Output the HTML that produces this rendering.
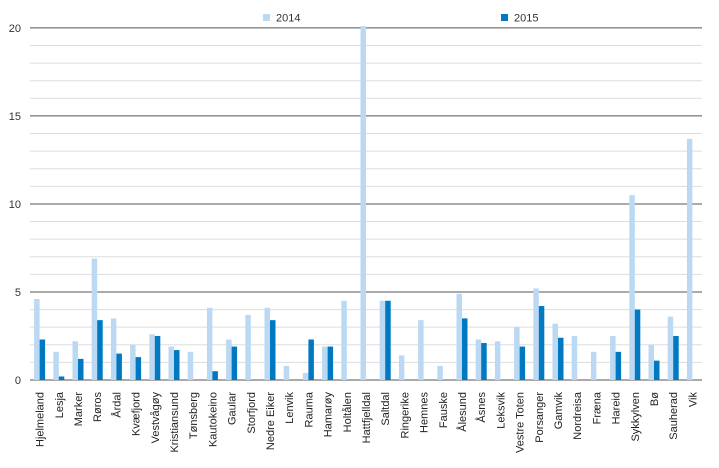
<!DOCTYPE html>
<html><head><meta charset="utf-8"><style>
body{margin:0;background:#fff;}
svg{display:block;font-family:"Liberation Sans","DejaVu Sans",sans-serif;}
</style></head><body>
<svg id="chart" width="719" height="468" viewBox="0 0 719 468" xmlns="http://www.w3.org/2000/svg">
<g id="grid"></g>
<g id="bars"></g>
<g id="xlabels"></g>
<g id="ylabels"></g>
<g>
<rect x="263" y="14" width="7" height="7" fill="#bcd9f3"/>
<text x="276" y="21.5" font-size="11" fill="#333">2014</text>
<rect x="501" y="14" width="7" height="7" fill="#0079c2"/>
<text x="514" y="21.5" font-size="11" fill="#333">2015</text>
</g>
</svg>
<script>
const categories=["Hjelmeland","Lesja","Marker","Røros","Årdal","Kvæfjord","Vestvågøy","Kristiansund","Tønsberg","Kautokeino","Gaular","Storfjord","Nedre Eiker","Lenvik","Rauma","Hamarøy","Holtålen","Hattfjelldal","Saltdal","Ringerike","Hemnes","Fauske","Ålesund","Åsnes","Leksvik","Vestre Toten","Porsanger","Gamvik","Nordreisa","Fræna","Hareid","Sykkylven","Bø","Sauherad","Vik"];
const values2014=[4.6,1.6,2.2,6.9,3.5,2.0,2.6,1.9,1.6,4.1,2.3,3.7,4.1,0.8,0.4,1.9,4.5,20.1,4.5,1.4,3.4,0.8,4.9,2.3,2.2,3.0,5.2,3.2,2.5,1.6,2.5,10.5,2.0,3.6,13.7];
const values2015=[2.3,0.2,1.2,3.4,1.5,1.3,2.5,1.7,0,0.5,1.9,0,3.4,0,2.3,1.9,0,0,4.5,0,0,0,3.5,2.1,0,1.9,4.2,2.4,0,0,1.6,4.0,1.1,2.5,0];
const yTicks=[0,5,10,15,20];
const NS="http://www.w3.org/2000/svg";
const x0=30,x1=702,yBase=380,yTop=27,yMax=20.05;
const band=(x1-x0)/categories.length;
function y(v){return yBase-v/yMax*(yBase-yTop);}
function xc(i){return x0+band*(i+0.5);}
function mk(tag,attrs,parent){const e=document.createElementNS(NS,tag);for(const k in attrs)e.setAttribute(k,attrs[k]);parent.appendChild(e);return e;}
const grid=document.getElementById('grid'),bars=document.getElementById('bars'),xl=document.getElementById('xlabels'),yl=document.getElementById('ylabels');
for(let v=1;v<=20;v++){
  const major=v%5===0;
  const l=mk('line',{x1:x0,x2:x1,y1:y(v),y2:y(v),stroke:major?'#555':'#ddd','stroke-width':major?1:1},grid);
  
  
}
yTicks.forEach(t=>{
  const tx=mk('text',{x:21,y:y(t)+4,'text-anchor':'end','font-size':11,fill:'#333'},yl);
  
  
  tx.textContent=t;
});
const bw=5.5;
categories.forEach((c,i)=>{
  const cx=xc(i);
  const b1=mk('rect',{x:cx-bw,y:y(values2014[i]),width:bw,height:yBase-y(values2014[i]),fill:'#bcd9f3'},bars);
  
  
  if(values2015[i]>0){
    const b2=mk('rect',{x:cx,y:y(values2015[i]),width:bw,height:yBase-y(values2015[i]),fill:'#0079c2'},bars);
    
    
  }
  const t=mk('text',{transform:`translate(${cx+4},392) rotate(-90)`,'text-anchor':'end','font-size':11,fill:'#222'},xl);
  
  
  t.textContent=c;
});
const ax=mk('line',{x1:x0,x2:x1,y1:yBase,y2:yBase,stroke:'#555','stroke-width':1},grid);


</script>
</body></html>
